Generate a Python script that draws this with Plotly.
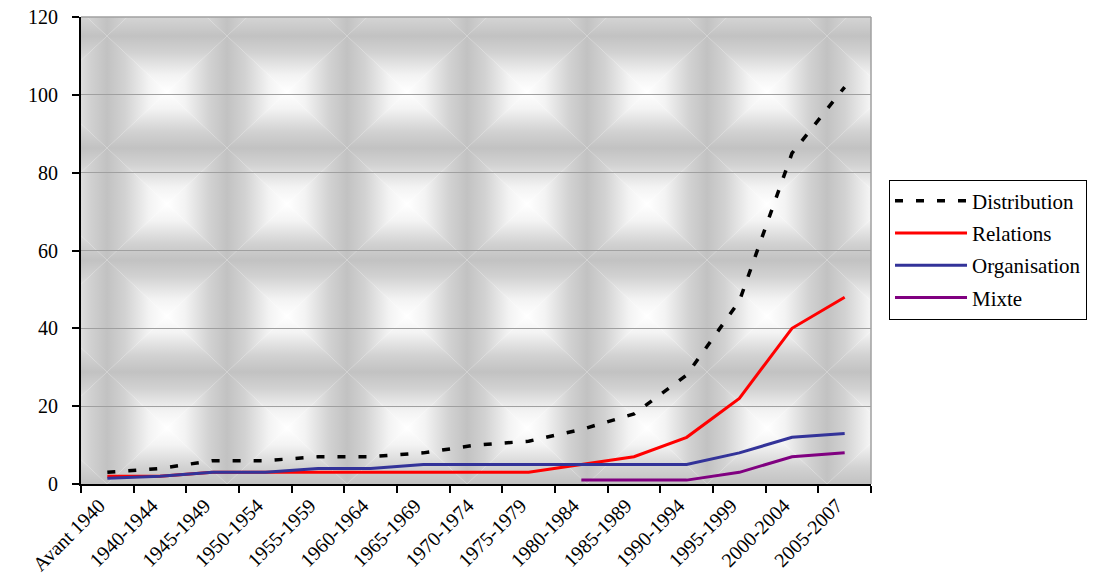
import base64
import plotly.graph_objects as go

categories = ["Avant 1940", "1940-1944", "1945-1949", "1950-1954", "1955-1959",
              "1960-1964", "1965-1969", "1970-1974", "1975-1979", "1980-1984",
              "1985-1989", "1990-1994", "1995-1999", "2000-2004", "2005-2007"]
distribution = [3, 4, 6, 6, 7, 7, 8, 10, 11, 14, 18, 28, 47, 85, 102]
relations = [2, 2, 3, 3, 3, 3, 3, 3, 3, 5, 7, 12, 22, 40, 48]
organisation = [1.5, 2, 3, 3, 4, 4, 5, 5, 5, 5, 5, 5, 8, 12, 13]
mixte = [None, None, None, None, None, None, None, None, None, 1, 1, 1, 3, 7, 8]
y_ticks = [0, 20, 40, 60, 80, 100, 120]

FONT = "Liberation Serif"
FS = 20

# decorative tiled "pillow" background (Excel texture fill look-alike)
W, H = 790, 467
TW, TH = 120, 112
stops = ('<stop offset="0" stop-color="#ffffff"/><stop offset="0.3" stop-color="#f3f3f3"/>'
         '<stop offset="0.7" stop-color="#d2d2d2"/><stop offset="1" stop-color="#c2c2c2"/>')
cx, cy = TW / 2, TH / 2
svg = f'''<svg xmlns="http://www.w3.org/2000/svg" width="{W}" height="{H}" viewBox="0 0 {W} {H}" preserveAspectRatio="none">
<defs>
<linearGradient id="gt" gradientUnits="userSpaceOnUse" x1="0" y1="{cy}" x2="0" y2="0">{stops}</linearGradient>
<linearGradient id="gb" gradientUnits="userSpaceOnUse" x1="0" y1="{cy}" x2="0" y2="{TH}">{stops}</linearGradient>
<linearGradient id="gl" gradientUnits="userSpaceOnUse" x1="{cx}" y1="0" x2="0" y2="0">{stops}</linearGradient>
<linearGradient id="gr" gradientUnits="userSpaceOnUse" x1="{cx}" y1="0" x2="{TW}" y2="0">{stops}</linearGradient>
<pattern id="p" patternUnits="userSpaceOnUse" x="26" y="19" width="{TW}" height="{TH}">
<polygon points="0,0 {TW},0 {cx},{cy}" fill="url(#gt)"/>
<polygon points="0,{TH} {TW},{TH} {cx},{cy}" fill="url(#gb)"/>
<polygon points="0,0 0,{TH} {cx},{cy}" fill="url(#gl)"/>
<polygon points="{TW},0 {TW},{TH} {cx},{cy}" fill="url(#gr)"/>
</pattern>
</defs>
<rect x="0" y="0" width="{W}" height="{H}" fill="url(#p)"/>
</svg>'''
bg_src = "data:image/svg+xml;base64," + base64.b64encode(svg.encode()).decode()

fig = go.Figure()
fig.add_trace(go.Scatter(x=categories, y=distribution, name="Distribution", mode="lines",
                         line=dict(color="black", width=3.5, dash="8px,13px"), legendgroup="a"))
fig.add_trace(go.Scatter(x=categories, y=relations, name="Relations", mode="lines",
                         line=dict(color="#ff0000", width=3), legendgroup="b"))
fig.add_trace(go.Scatter(x=categories, y=organisation, name="Organisation", mode="lines",
                         line=dict(color="#333399", width=3), legendgroup="c"))
fig.add_trace(go.Scatter(x=categories, y=mixte, name="Mixte", mode="lines",
                         line=dict(color="#800080", width=3), legendgroup="d"))

fig.update_layout(
    width=1099, height=580,
    margin=dict(l=81, r=228, t=17, b=96, autoexpand=False),
    paper_bgcolor="white",
    plot_bgcolor="rgba(0,0,0,0)",
    font=dict(family=FONT, size=FS, color="black"),
    images=[dict(source=bg_src, xref="paper", yref="paper", x=0, y=1, sizex=1, sizey=1,
                 xanchor="left", yanchor="top", sizing="stretch", layer="below")],
    legend=dict(x=1.0228, y=0.652, xanchor="left", yanchor="top",
                bgcolor="white", bordercolor="black", borderwidth=1,
                font=dict(family=FONT, size=21), tracegroupgap=2, itemwidth=72),
    showlegend=True,
)
fig.update_xaxes(
    type="category", tickangle=-45, tickson="boundaries",
    ticks="outside", ticklen=7, tickcolor="black", tickwidth=1.5,
    showline=True, linecolor="black", linewidth=2, showgrid=False,
    tickfont=dict(family=FONT, size=FS), range=[-0.5, 14.5],
    ticklabelshift=-8, automargin=False,
)
fig.update_yaxes(
    range=[0, 120], tickvals=y_ticks, ticks="outside", ticklen=7, tickcolor="black",
    tickwidth=1.5, showline=True, linecolor="black", linewidth=2,
    showgrid=True, gridcolor="#a0a0a0", gridwidth=1, zeroline=False,
    tickfont=dict(family=FONT, size=FS), ticklabelstandoff=10, automargin=False,
)
# plot-area border (top and right)
fig.add_shape(type="line", xref="paper", yref="paper", x0=0, x1=1, y0=1, y1=1,
              line=dict(color="#a0a0a0", width=1.5))
fig.add_shape(type="line", xref="paper", yref="paper", x0=1, x1=1, y0=0, y1=1,
              line=dict(color="#a0a0a0", width=1.5))

fig.write_html("out.html")
